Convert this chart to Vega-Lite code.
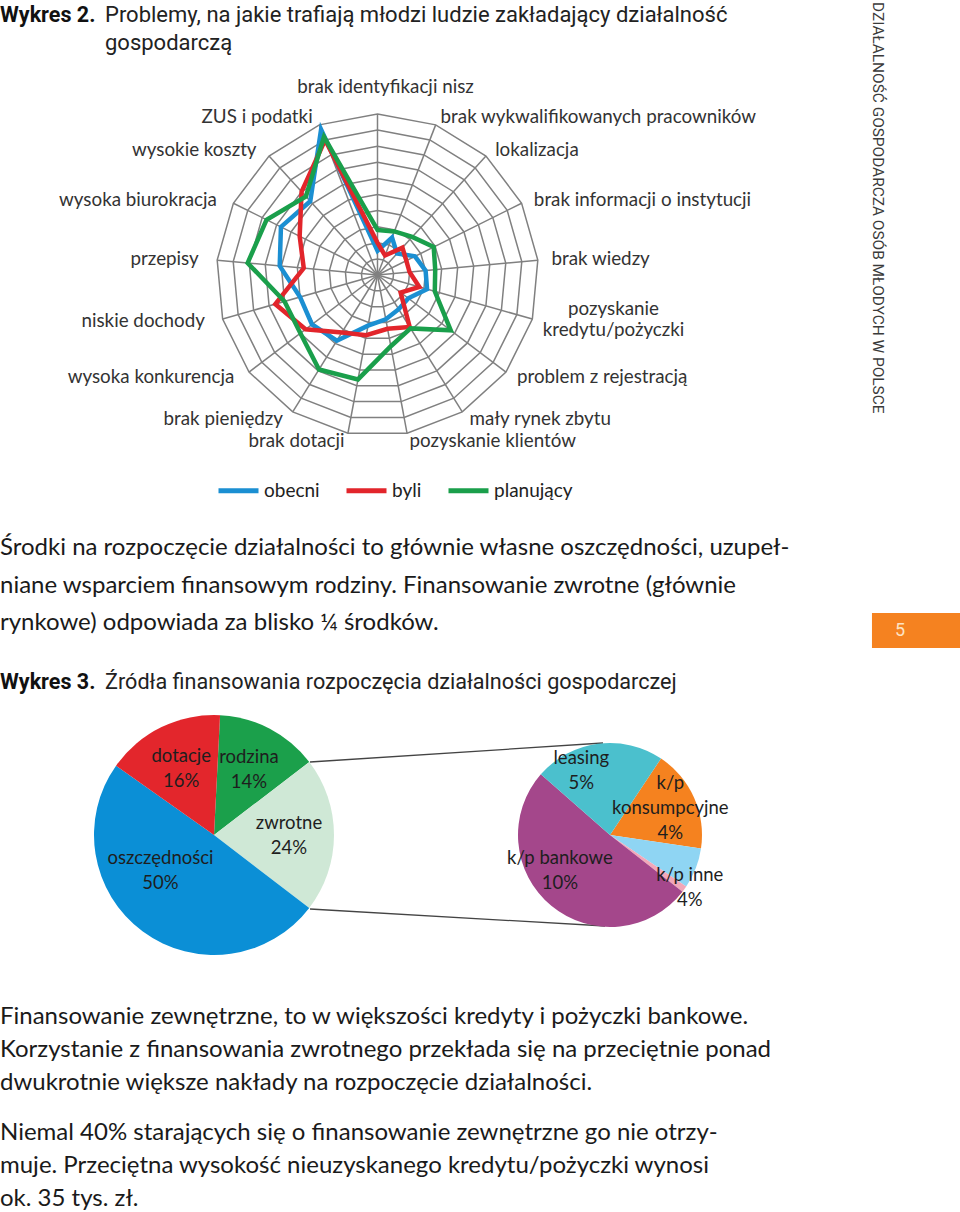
{
  "$schema": "https://vega.github.io/schema/vega-lite/v6.json",
  "background": "white",
  "padding": 0,
  "spacing": 0,
  "bounds": "full",
  "config": {"view": {"stroke": null}, "font": "Lato"},
  "resolve": {"scale": {"color": "independent"}, "legend": {"color": "independent"}},
  "datasets": {
    "kategorie": [
      {"k": 0, "kat": "brak identyfikacji nisz", "rings": [5,10,15,20,25,30,35,40,45,50]},
      {"k": 1, "kat": "brak wykwalifikowanych pracowników", "rings": [5,10,15,20,25,30,35,40,45,50]},
      {"k": 2, "kat": "lokalizacja", "rings": [5,10,15,20,25,30,35,40,45,50]},
      {"k": 3, "kat": "brak informacji o instytucji", "rings": [5,10,15,20,25,30,35,40,45,50]},
      {"k": 4, "kat": "brak wiedzy", "rings": [5,10,15,20,25,30,35,40,45,50]},
      {"k": 5, "kat": "pozyskanie kredytu/pożyczki", "rings": [5,10,15,20,25,30,35,40,45,50]},
      {"k": 6, "kat": "problem z rejestracją", "rings": [5,10,15,20,25,30,35,40,45,50]},
      {"k": 7, "kat": "mały rynek zbytu", "rings": [5,10,15,20,25,30,35,40,45,50]},
      {"k": 8, "kat": "pozyskanie klientów", "rings": [5,10,15,20,25,30,35,40,45,50]},
      {"k": 9, "kat": "brak dotacji", "rings": [5,10,15,20,25,30,35,40,45,50]},
      {"k": 10, "kat": "brak pieniędzy", "rings": [5,10,15,20,25,30,35,40,45,50]},
      {"k": 11, "kat": "wysoka konkurencja", "rings": [5,10,15,20,25,30,35,40,45,50]},
      {"k": 12, "kat": "niskie dochody", "rings": [5,10,15,20,25,30,35,40,45,50]},
      {"k": 13, "kat": "przepisy", "rings": [5,10,15,20,25,30,35,40,45,50]},
      {"k": 14, "kat": "wysoka biurokracja", "rings": [5,10,15,20,25,30,35,40,45,50]},
      {"k": 15, "kat": "wysokie koszty", "rings": [5,10,15,20,25,30,35,40,45,50]},
      {"k": 16, "kat": "ZUS i podatki", "rings": [5,10,15,20,25,30,35,40,45,50]}
    ],
    "problemy": [
      {"k": 0, "obecni": 7.5, "byli": 10, "planujący": 14},
      {"k": 1, "obecni": 12.5, "byli": 6.5, "planujący": 14.5},
      {"k": 2, "obecni": 9, "byli": 11.5, "planujący": 16},
      {"k": 3, "obecni": 13, "byli": 10, "planujący": 19.5},
      {"k": 4, "obecni": 15, "byli": 10, "planujący": 18},
      {"k": 5, "obecni": 16, "byli": 13.5, "planujący": 18.5},
      {"k": 6, "obecni": 12, "byli": 9, "planujący": 28.5},
      {"k": 7, "obecni": 12.5, "byli": 19, "planujący": 19.5},
      {"k": 8, "obecni": 14, "byli": 17, "planujący": 22.5},
      {"k": 9, "obecni": 16, "byli": 19, "planujący": 33},
      {"k": 10, "obecni": 24, "byli": 21, "planujący": 34.5},
      {"k": 11, "obecni": 25.5, "byli": 28, "planujący": 30},
      {"k": 12, "obecni": 25, "byli": 33, "planujący": 30},
      {"k": 13, "obecni": 30.5, "byli": 23, "planujący": 40.5},
      {"k": 14, "obecni": 33.5, "byli": 27, "planujący": 38.5},
      {"k": 15, "obecni": 31, "byli": 35, "planujący": 33},
      {"k": 16, "obecni": 48.5, "byli": 45, "planujący": 46}
    ],
    "akapit1": [
      {"line": 0, "t": "Środki na rozpoczęcie działalności to głównie własne oszczędności, uzupeł-"},
      {"line": 1, "t": "niane wsparciem finansowym rodziny. Finansowanie zwrotne (głównie"},
      {"line": 2, "t": "rynkowe) odpowiada za blisko ¼ środków."}
    ],
    "akapit2": [
      {"para": 1, "line": 0, "t": "Finansowanie zewnętrzne, to w większości kredyty i pożyczki bankowe."},
      {"para": 1, "line": 1, "t": "Korzystanie z finansowania zwrotnego przekłada się na przeciętnie ponad"},
      {"para": 1, "line": 2, "t": "dwukrotnie większe nakłady na rozpoczęcie działalności."},
      {"para": 2, "line": 0, "t": "Niemal 40% starających się o finansowanie zewnętrzne go nie otrzy-"},
      {"para": 2, "line": 1, "t": "muje. Przeciętna wysokość nieuzyskanego kredytu/pożyczki wynosi"},
      {"para": 2, "line": 2, "t": "ok. 35 tys. zł."}
    ],
    "lewy": [
      {"i": 1, "zrodlo": "rodzina", "udzial": 13.8, "etykieta": "rodzina\n14%"},
      {"i": 2, "zrodlo": "zwrotne", "udzial": 20.8, "etykieta": "zwrotne\n24%"},
      {"i": 3, "zrodlo": "oszczędności", "udzial": 49.4, "etykieta": "oszczędności\n50%"},
      {"i": 4, "zrodlo": "dotacje", "udzial": 16.0, "etykieta": "dotacje\n16%"}
    ],
    "prawy": [
      {"i": 1, "zrodlo": "k/p konsumpcyjne", "udzial": 18.0, "etykieta": "k/p\nkonsumpcyjne\n4%"},
      {"i": 2, "zrodlo": "k/p inne", "udzial": 7.1, "etykieta": "k/p inne\n4%"},
      {"i": 3, "zrodlo": "inne", "udzial": 1.1, "etykieta": ""},
      {"i": 4, "zrodlo": "k/p bankowe", "udzial": 50.9, "etykieta": "k/p bankowe\n10%"},
      {"i": 5, "zrodlo": "leasing", "udzial": 22.9, "etykieta": "leasing\n5%"}
    ]
  },
  "vconcat": [
    {
      "width": 960,
      "height": 520,
      "layer": [
        {
          "data": {"name": "kategorie"},
          "transform": [
            {"flatten": ["rings"]},
            {"calculate": "datum.k*2*PI/17", "as": "a"},
            {"calculate": "datum.rings/5*sin(datum.a)", "as": "gx"},
            {"calculate": "datum.rings/5*cos(datum.a)", "as": "gy"}
          ],
          "mark": {"type": "line", "interpolate": "linear-closed", "stroke": "#808080", "strokeWidth": 1.5},
          "encoding": {
            "x": {"field": "gx", "type": "quantitative", "scale": {"domain": [-23.447, 36.18], "nice": false, "zero": false}, "axis": null},
            "y": {"field": "gy", "type": "quantitative", "scale": {"domain": [-15.217, 17.081], "nice": false, "zero": false}, "axis": null},
            "detail": {"field": "rings", "type": "nominal"},
            "order": {"field": "k", "type": "quantitative"}
          }
        },
        {
          "data": {"name": "kategorie"},
          "transform": [
            {"calculate": "datum.k*2*PI/17", "as": "a"},
            {"calculate": "0", "as": "ox"},
            {"calculate": "0", "as": "oy"},
            {"calculate": "10*sin(datum.a)", "as": "sx"},
            {"calculate": "10*cos(datum.a)", "as": "sy"}
          ],
          "mark": {"type": "rule", "stroke": "#808080", "strokeWidth": 1.5},
          "encoding": {
            "x": {"field": "ox", "type": "quantitative", "scale": {"domain": [-23.447, 36.18], "nice": false, "zero": false}, "axis": null},
            "y": {"field": "oy", "type": "quantitative", "scale": {"domain": [-15.217, 17.081], "nice": false, "zero": false}, "axis": null},
            "x2": {"field": "sx"},
            "y2": {"field": "sy"}
          }
        },
        {
          "data": {"name": "problemy"},
          "transform": [
            {"fold": ["obecni", "byli", "planujący"], "as": ["seria", "v"]},
            {"calculate": "datum.k*2*PI/17", "as": "a"},
            {"calculate": "datum.v/5*sin(datum.a)", "as": "px"},
            {"calculate": "datum.v/5*cos(datum.a)", "as": "py"}
          ],
          "mark": {"type": "line", "interpolate": "linear-closed", "strokeWidth": 4.5},
          "encoding": {
            "x": {"field": "px", "type": "quantitative", "scale": {"domain": [-23.447, 36.18], "nice": false, "zero": false}, "axis": null},
            "y": {"field": "py", "type": "quantitative", "scale": {"domain": [-15.217, 17.081], "nice": false, "zero": false}, "axis": null},
            "color": {
              "field": "seria", "type": "nominal",
              "scale": {"domain": ["obecni", "byli", "planujący"], "range": ["#1b8fd2", "#e2252b", "#1a9f4b"]},
              "legend": {"orient": "none", "legendX": 216, "legendY": 468, "direction": "horizontal", "title": null, "symbolType": "stroke", "symbolSize": 1600, "symbolStrokeWidth": 5, "labelFont": "Lato", "labelFontSize": 19, "labelColor": "#222222", "columnPadding": 16, "labelOffset": 3, "padding": 0}
            },
            "order": {"field": "k", "type": "quantitative"}
          }
        },
        {
          "data": {"name": "kategorie"},
          "transform": [
            {"filter": "datum.k >= 1 && datum.k <= 8 && datum.k != 5"},
            {"calculate": "datum.k*2*PI/17", "as": "a"},
            {"calculate": "10.85*sin(datum.a)", "as": "lx"},
            {"calculate": "10.5*cos(datum.a)", "as": "ly"}
          ],
          "mark": {"type": "text", "align": "left", "baseline": "middle", "font": "Lato", "fontSize": 18.8, "color": "#333333"},
          "encoding": {
            "x": {"field": "lx", "type": "quantitative", "scale": {"domain": [-23.447, 36.18], "nice": false, "zero": false}, "axis": null},
            "y": {"field": "ly", "type": "quantitative", "scale": {"domain": [-15.217, 17.081], "nice": false, "zero": false}, "axis": null},
            "text": {"field": "kat"}
          }
        },
        {
          "data": {"name": "kategorie"},
          "transform": [
            {"filter": "datum.k >= 9"},
            {"calculate": "datum.k*2*PI/17", "as": "a"},
            {"calculate": "11.15*sin(datum.a)", "as": "lx"},
            {"calculate": "10.5*cos(datum.a)", "as": "ly"}
          ],
          "mark": {"type": "text", "align": "right", "baseline": "middle", "font": "Lato", "fontSize": 18.8, "color": "#333333"},
          "encoding": {
            "x": {"field": "lx", "type": "quantitative", "scale": {"domain": [-23.447, 36.18], "nice": false, "zero": false}, "axis": null},
            "y": {"field": "ly", "type": "quantitative", "scale": {"domain": [-15.217, 17.081], "nice": false, "zero": false}, "axis": null},
            "text": {"field": "kat"}
          }
        },
        {
          "data": {"name": "kategorie"},
          "transform": [
            {"filter": "datum.k == 0"},
            {"calculate": "0", "as": "lx"},
            {"calculate": "11.68", "as": "ly"}
          ],
          "mark": {"type": "text", "align": "center", "baseline": "middle", "dx": 8, "font": "Lato", "fontSize": 18.8, "color": "#333333"},
          "encoding": {
            "x": {"field": "lx", "type": "quantitative", "scale": {"domain": [-23.447, 36.18], "nice": false, "zero": false}, "axis": null},
            "y": {"field": "ly", "type": "quantitative", "scale": {"domain": [-15.217, 17.081], "nice": false, "zero": false}, "axis": null},
            "text": {"field": "kat"}
          }
        },
        {
          "data": {"name": "kategorie"},
          "transform": [
            {"filter": "datum.k == 5"},
            {"calculate": "datum.k*2*PI/17", "as": "a"},
            {"calculate": "10.85*sin(datum.a)", "as": "lx"},
            {"calculate": "10.85*cos(datum.a)", "as": "ly"}
          ],
          "mark": {"type": "text", "align": "center", "baseline": "middle", "dx": 68, "dy": -14, "lineBreak": " ", "lineHeight": 21, "font": "Lato", "fontSize": 18.8, "color": "#333333"},
          "encoding": {
            "x": {"field": "lx", "type": "quantitative", "scale": {"domain": [-23.447, 36.18], "nice": false, "zero": false}, "axis": null},
            "y": {"field": "ly", "type": "quantitative", "scale": {"domain": [-15.217, 17.081], "nice": false, "zero": false}, "axis": null},
            "text": {"field": "kat"}
          }
        },
        {
          "data": {"values": [{"t": "Wykres 2."}]},
          "transform": [{"calculate": "-23.447", "as": "tx"}, {"calculate": "15.714", "as": "ty"}],
          "mark": {"type": "text", "align": "left", "baseline": "alphabetic", "font": "Roboto", "fontWeight": "bold", "fontSize": 21.5, "color": "#111111"},
          "encoding": {
            "x": {"field": "tx", "type": "quantitative", "scale": {"domain": [-23.447, 36.18], "nice": false, "zero": false}, "axis": null},
            "y": {"field": "ty", "type": "quantitative", "scale": {"domain": [-15.217, 17.081], "nice": false, "zero": false}, "axis": null},
            "text": {"field": "t"}
          }
        },
        {
          "data": {"values": [{"t": "Problemy, na jakie trafiają młodzi ludzie zakładający działalność|gospodarczą"}]},
          "transform": [{"calculate": "-16.925", "as": "tx"}, {"calculate": "15.714", "as": "ty"}],
          "mark": {"type": "text", "align": "left", "baseline": "alphabetic", "lineBreak": "|", "font": "Roboto", "fontSize": 22, "lineHeight": 28, "color": "#222222"},
          "encoding": {
            "x": {"field": "tx", "type": "quantitative", "scale": {"domain": [-23.447, 36.18], "nice": false, "zero": false}, "axis": null},
            "y": {"field": "ty", "type": "quantitative", "scale": {"domain": [-15.217, 17.081], "nice": false, "zero": false}, "axis": null},
            "text": {"field": "t"}
          }
        },
        {
          "data": {"values": [{"t": "DZIAŁALNOŚĆ GOSPODARCZA OSÓB MŁODYCH W POLSCE"}]},
          "transform": [{"calculate": "31.087", "as": "tx"}, {"calculate": "16.957", "as": "ty"}],
          "mark": {"type": "text", "angle": 90, "align": "left", "baseline": "middle", "font": "Roboto", "fontSize": 15.4, "color": "#3a3a3a"},
          "encoding": {
            "x": {"field": "tx", "type": "quantitative", "scale": {"domain": [-23.447, 36.18], "nice": false, "zero": false}, "axis": null},
            "y": {"field": "ty", "type": "quantitative", "scale": {"domain": [-15.217, 17.081], "nice": false, "zero": false}, "axis": null},
            "text": {"field": "t"}
          }
        }
      ]
    },
    {
      "width": 960,
      "height": 195,
      "layer": [
        {
          "data": {"name": "akapit1"},
          "transform": [{"calculate": "0", "as": "tx"}],
          "mark": {"type": "text", "align": "left", "baseline": "middle", "font": "Lato", "fontSize": 24, "color": "#1a1a1a"},
          "encoding": {
            "x": {"field": "tx", "type": "quantitative", "scale": {"domain": [0, 1], "nice": false, "zero": false}, "axis": null},
            "y": {"field": "line", "type": "quantitative", "scale": {"domain": [-0.747, 4.453], "reverse": true, "nice": false, "zero": false}, "axis": null},
            "text": {"field": "t"}
          }
        },
        {
          "data": {"values": [{"strona": 5}]},
          "transform": [{"calculate": "0.9083", "as": "x1"}, {"calculate": "1", "as": "x2"}, {"calculate": "1.733", "as": "y1"}, {"calculate": "2.667", "as": "y2"}],
          "mark": {"type": "rect", "color": "#f58220"},
          "encoding": {
            "x": {"field": "x1", "type": "quantitative", "scale": {"domain": [0, 1], "nice": false, "zero": false}, "axis": null},
            "x2": {"field": "x2"},
            "y": {"field": "y1", "type": "quantitative", "scale": {"domain": [-0.747, 4.453], "reverse": true, "nice": false, "zero": false}, "axis": null},
            "y2": {"field": "y2"}
          }
        },
        {
          "data": {"values": [{"strona": "5"}]},
          "transform": [{"calculate": "0.9375", "as": "tx"}, {"calculate": "2.213", "as": "ty"}],
          "mark": {"type": "text", "align": "center", "baseline": "middle", "font": "Roboto", "fontSize": 18, "color": "#fde3c4"},
          "encoding": {
            "x": {"field": "tx", "type": "quantitative", "scale": {"domain": [0, 1], "nice": false, "zero": false}, "axis": null},
            "y": {"field": "ty", "type": "quantitative", "scale": {"domain": [-0.747, 4.453], "reverse": true, "nice": false, "zero": false}, "axis": null},
            "text": {"field": "strona"}
          }
        },
        {
          "data": {"values": [{"t": "Wykres 3."}]},
          "transform": [{"calculate": "0", "as": "tx"}, {"calculate": "3.76", "as": "ty"}],
          "mark": {"type": "text", "align": "left", "baseline": "alphabetic", "font": "Roboto", "fontWeight": "bold", "fontSize": 21.5, "color": "#111111"},
          "encoding": {
            "x": {"field": "tx", "type": "quantitative", "scale": {"domain": [0, 1], "nice": false, "zero": false}, "axis": null},
            "y": {"field": "ty", "type": "quantitative", "scale": {"domain": [-0.747, 4.453], "reverse": true, "nice": false, "zero": false}, "axis": null},
            "text": {"field": "t"}
          }
        },
        {
          "data": {"values": [{"t": "Źródła finansowania rozpoczęcia działalności gospodarczej"}]},
          "transform": [{"calculate": "0.1094", "as": "tx"}, {"calculate": "3.76", "as": "ty"}],
          "mark": {"type": "text", "align": "left", "baseline": "alphabetic", "font": "Roboto", "fontSize": 21.6, "color": "#222222"},
          "encoding": {
            "x": {"field": "tx", "type": "quantitative", "scale": {"domain": [0, 1], "nice": false, "zero": false}, "axis": null},
            "y": {"field": "ty", "type": "quantitative", "scale": {"domain": [-0.747, 4.453], "reverse": true, "nice": false, "zero": false}, "axis": null},
            "text": {"field": "t"}
          }
        }
      ]
    },
    {
      "hconcat": [
        {
          "width": 428,
          "height": 240,
          "layer": [
            {
              "data": {"values": [{"odcinek": "górny", "x1": 0.7243, "y1": 0.1958, "x2": 1.4089, "y2": 0.1167}, {"odcinek": "dolny", "x1": 0.7243, "y1": 0.8083, "x2": 1.4136, "y2": 0.8792}]},
              "mark": {"type": "rule", "stroke": "#444444", "strokeWidth": 1.3},
              "encoding": {
                "x": {"field": "x1", "type": "quantitative", "scale": {"domain": [0, 1], "nice": false, "zero": false}, "axis": null},
                "y": {"field": "y1", "type": "quantitative", "scale": {"domain": [0, 1], "reverse": true, "nice": false, "zero": false}, "axis": null},
                "x2": {"field": "x2"},
                "y2": {"field": "y2"}
              }
            },
            {
              "data": {"name": "lewy"},
              "mark": {"type": "arc", "outerRadius": 120},
              "encoding": {
                "theta": {"field": "udzial", "type": "quantitative", "stack": true, "scale": {"range": [0.0506, 6.3338]}},
                "order": {"field": "i", "type": "quantitative"},
                "color": {"field": "zrodlo", "type": "nominal", "scale": {"domain": ["rodzina", "zwrotne", "oszczędności", "dotacje"], "range": ["#1ba04b", "#cfe8d6", "#0b8fd6", "#e3262c"]}, "legend": null}
              }
            },
            {
              "data": {"name": "lewy"},
              "transform": [{"calculate": "datum.zrodlo == 'oszczędności' ? '' : datum.etykieta", "as": "lab"}],
              "mark": {"type": "text", "radius": 75, "dy": -12, "lineBreak": "\n", "lineHeight": 25, "font": "Lato", "fontSize": 18.5, "color": "#1e1e1e", "align": "center", "baseline": "middle"},
              "encoding": {
                "theta": {"field": "udzial", "type": "quantitative", "stack": true, "scale": {"range": [0.0506, 6.3338]}},
                "order": {"field": "i", "type": "quantitative"},
                "text": {"field": "lab"}
              }
            },
            {
              "data": {"name": "lewy"},
              "transform": [{"calculate": "datum.zrodlo == 'oszczędności' ? datum.etykieta : ''", "as": "lab"}],
              "mark": {"type": "text", "radius": 75, "dx": -9, "dy": -37, "lineBreak": "\n", "lineHeight": 25, "font": "Lato", "fontSize": 18.5, "color": "#1e1e1e", "align": "center", "baseline": "middle"},
              "encoding": {
                "theta": {"field": "udzial", "type": "quantitative", "stack": true, "scale": {"range": [0.0506, 6.3338]}},
                "order": {"field": "i", "type": "quantitative"},
                "text": {"field": "lab"}
              }
            }
          ]
        },
        {
          "width": 364,
          "height": 240,
          "layer": [
            {
              "data": {"name": "prawy"},
              "mark": {"type": "arc", "outerRadius": 92},
              "encoding": {
                "theta": {"field": "udzial", "type": "quantitative", "stack": true, "scale": {"range": [0.588, 6.8712]}},
                "order": {"field": "i", "type": "quantitative"},
                "color": {"field": "zrodlo", "type": "nominal", "scale": {"domain": ["k/p konsumpcyjne", "k/p inne", "inne", "k/p bankowe", "leasing"], "range": ["#f5821f", "#8fd5f3", "#f2a7b8", "#a4478b", "#4bc0cd"]}, "legend": null}
              }
            },
            {
              "data": {"name": "prawy"},
              "transform": [{"calculate": "datum.zrodlo == 'leasing' ? datum.etykieta : ''", "as": "lab"}],
              "mark": {"type": "text", "radius": 66, "dx": -20, "dy": -12, "lineBreak": "\n", "lineHeight": 25, "font": "Lato", "fontSize": 18.5, "color": "#1e1e1e", "align": "center", "baseline": "middle"},
              "encoding": {
                "theta": {"field": "udzial", "type": "quantitative", "stack": true, "scale": {"range": [0.588, 6.8712]}},
                "order": {"field": "i", "type": "quantitative"},
                "text": {"field": "lab"}
              }
            },
            {
              "data": {"name": "prawy"},
              "transform": [{"calculate": "datum.zrodlo == 'k/p konsumpcyjne' ? datum.etykieta : ''", "as": "lab"}],
              "mark": {"type": "text", "radius": 66, "dy": -25, "lineBreak": "\n", "lineHeight": 25, "font": "Lato", "fontSize": 18.5, "color": "#1e1e1e", "align": "center", "baseline": "middle"},
              "encoding": {
                "theta": {"field": "udzial", "type": "quantitative", "stack": true, "scale": {"range": [0.588, 6.8712]}},
                "order": {"field": "i", "type": "quantitative"},
                "text": {"field": "lab"}
              }
            },
            {
              "data": {"name": "prawy"},
              "transform": [{"calculate": "datum.zrodlo == 'k/p bankowe' ? datum.etykieta : ''", "as": "lab"}],
              "mark": {"type": "text", "radius": 66, "dx": -8, "dy": -28, "lineBreak": "\n", "lineHeight": 25, "font": "Lato", "fontSize": 18.5, "color": "#1e1e1e", "align": "center", "baseline": "middle"},
              "encoding": {
                "theta": {"field": "udzial", "type": "quantitative", "stack": true, "scale": {"range": [0.588, 6.8712]}},
                "order": {"field": "i", "type": "quantitative"},
                "text": {"field": "lab"}
              }
            },
            {
              "data": {"name": "prawy"},
              "transform": [{"calculate": "datum.zrodlo == 'k/p inne' ? datum.etykieta : ''", "as": "lab"}],
              "mark": {"type": "text", "radius": 92, "dx": -6, "dy": 7, "lineBreak": "\n", "lineHeight": 25, "font": "Lato", "fontSize": 18.5, "color": "#1e1e1e", "align": "center", "baseline": "middle"},
              "encoding": {
                "theta": {"field": "udzial", "type": "quantitative", "stack": true, "scale": {"range": [0.588, 6.8712]}},
                "order": {"field": "i", "type": "quantitative"},
                "text": {"field": "lab"}
              }
            }
          ]
        }
      ],
      "spacing": 0,
      "bounds": "flush",
      "resolve": {"scale": {"color": "independent", "theta": "independent"}}
    },
    {
      "width": 960,
      "height": 257,
      "layer": [
        {
          "data": {"name": "akapit2"},
          "transform": [{"calculate": "datum.line + (datum.para - 1) * 3.5", "as": "poz"}, {"calculate": "0", "as": "tx"}],
          "mark": {"type": "text", "align": "left", "baseline": "middle", "font": "Lato", "fontSize": 24, "color": "#1a1a1a"},
          "encoding": {
            "x": {"field": "tx", "type": "quantitative", "scale": {"domain": [0, 1], "nice": false, "zero": false}, "axis": null},
            "y": {"field": "poz", "type": "quantitative", "scale": {"domain": [-1.879, 5.909], "reverse": true, "nice": false, "zero": false}, "axis": null},
            "text": {"field": "t"}
          }
        }
      ]
    }
  ]
}
